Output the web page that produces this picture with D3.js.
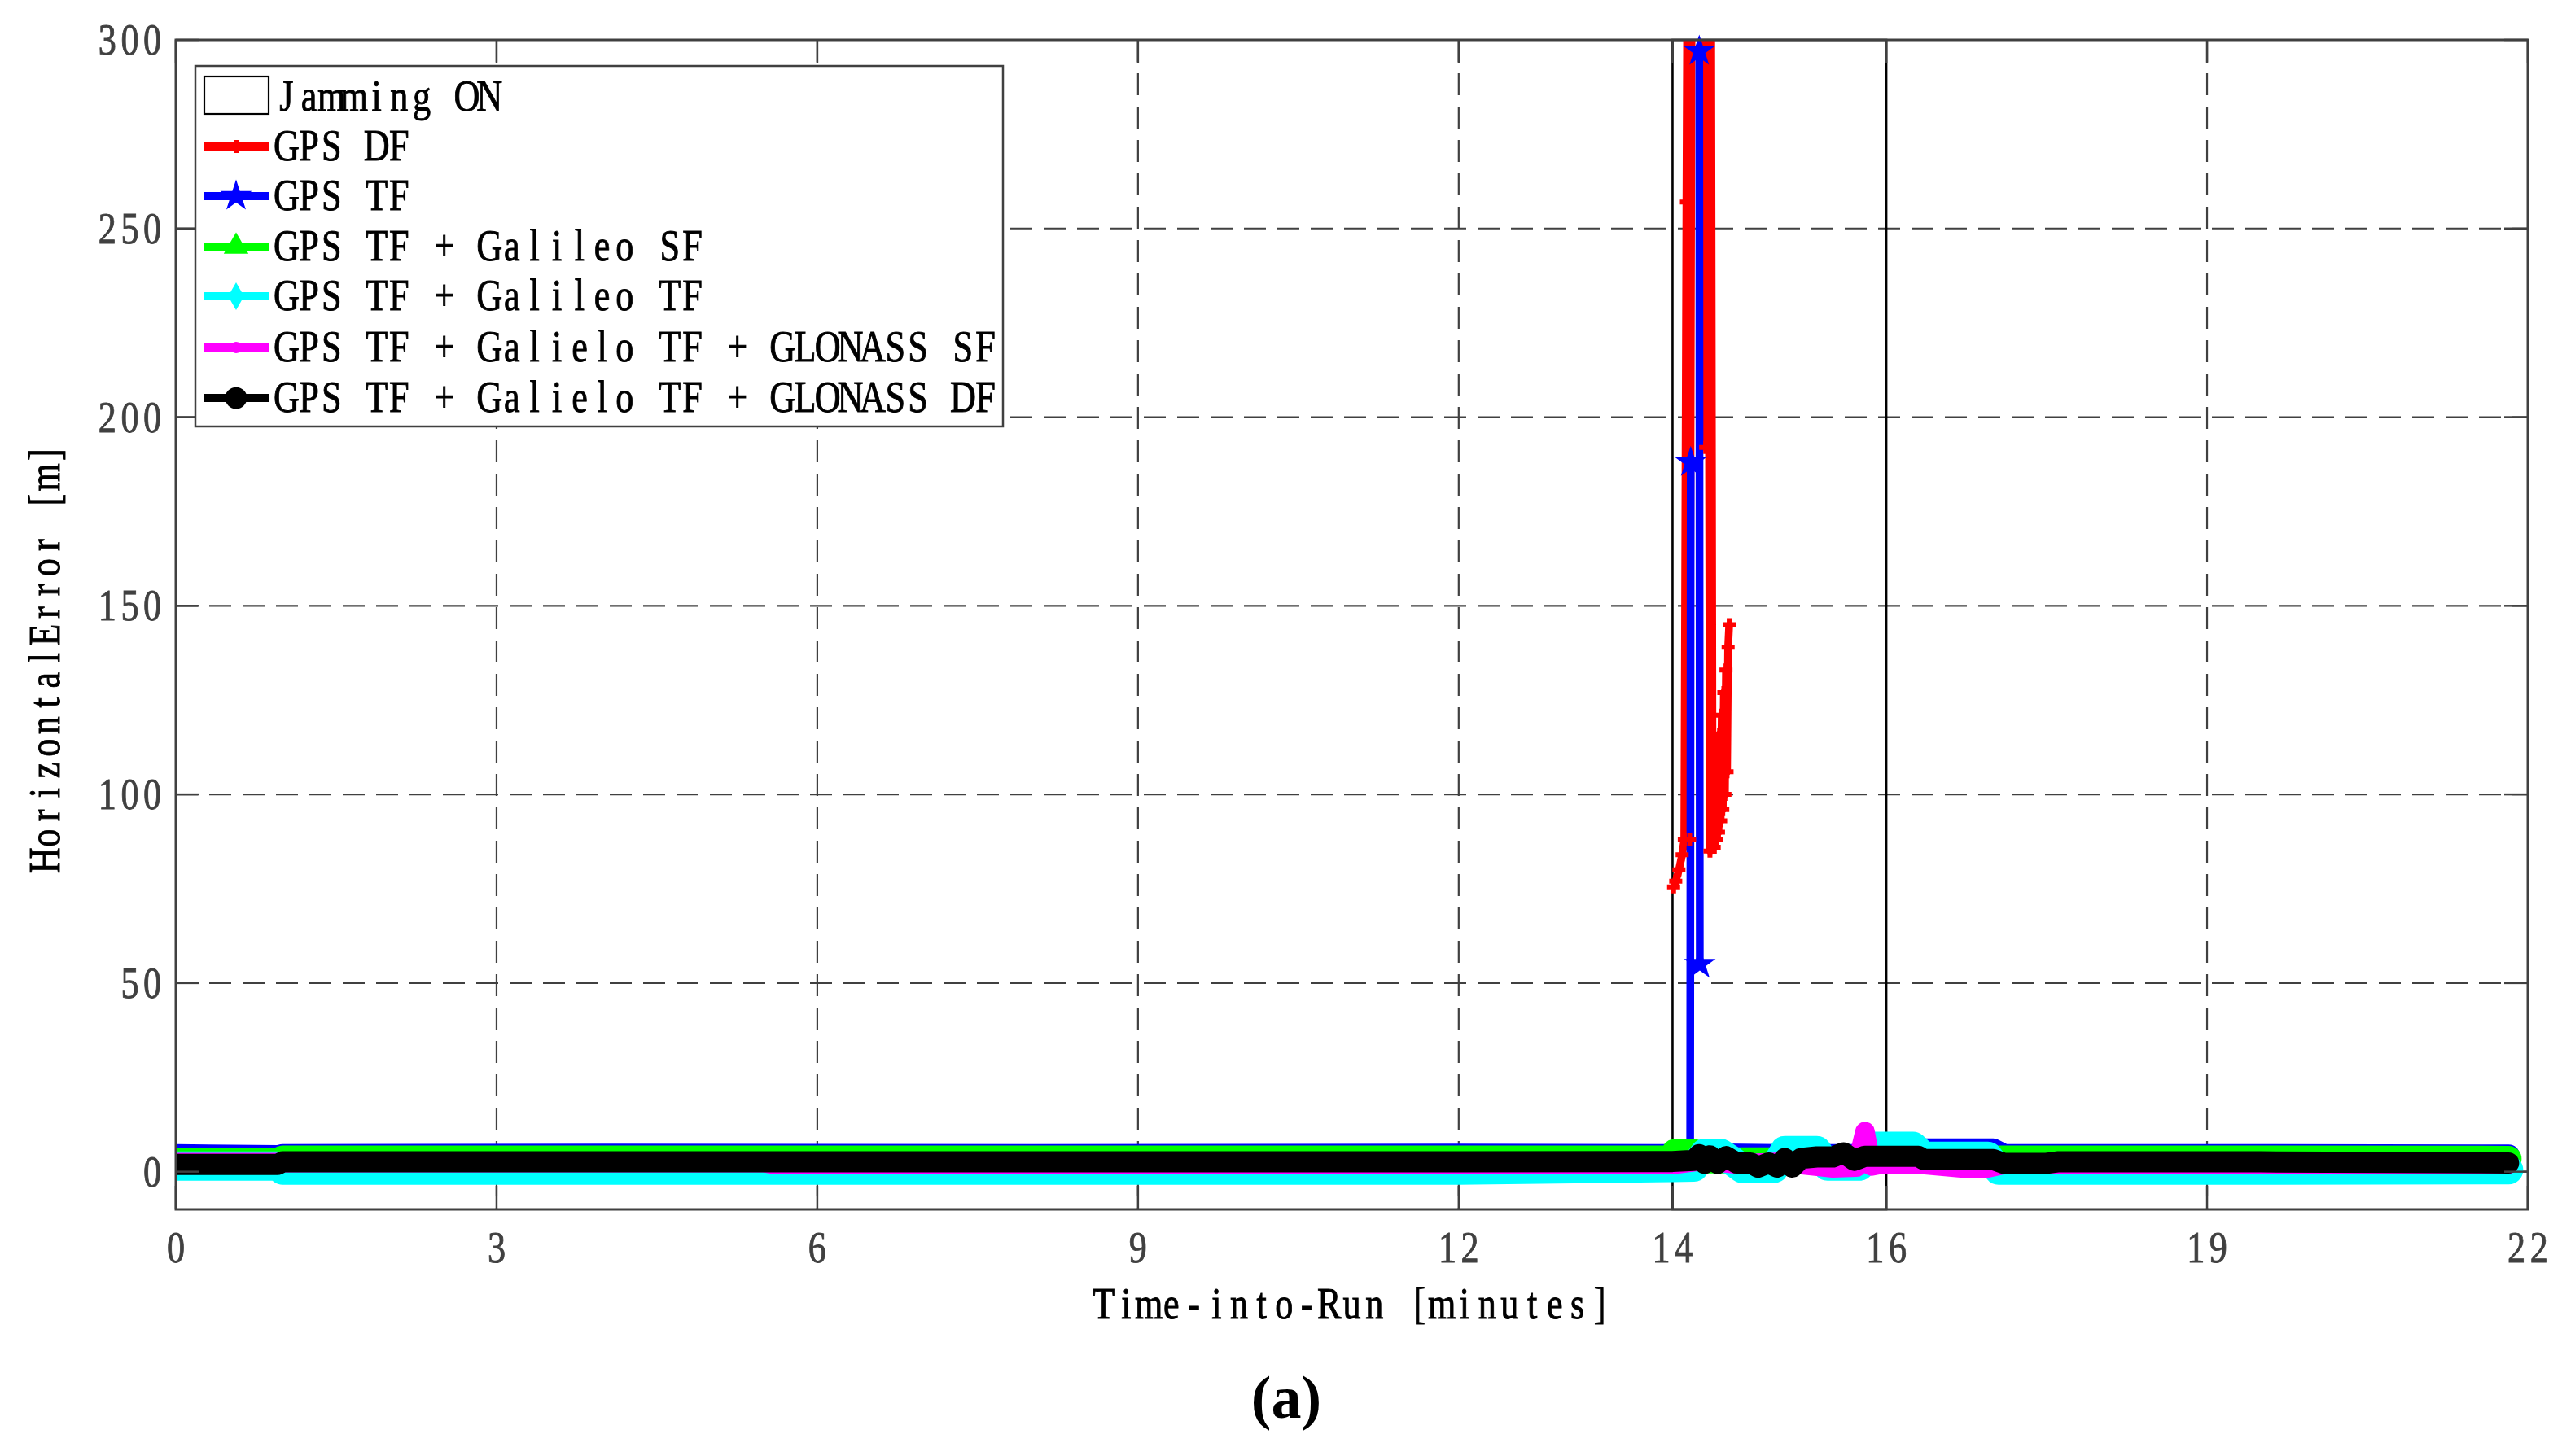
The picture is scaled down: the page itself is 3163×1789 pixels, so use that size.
<!DOCTYPE html>
<html>
<head>
<meta charset="utf-8">
<script src="https://cdn.jsdelivr.net/npm/d3@7"></script>
<style>
body { margin: 0; background: #fff; }
</style>
</head>
<body>
<div id="chart"></div>
<script>
// axis ticks
var xTicks = [0, 3, 6, 9, 12, 14, 16, 19, 22];
var yTicks = [0, 50, 100, 150, 200, 250, 300];
var jamStart = 14, jamEnd = 16;

var legendNames = ["GPS DF", "GPS TF", "GPS TF + Galileo SF", "GPS TF + Galileo TF",
    "GPS TF + Galielo TF + GLONASS SF", "GPS TF + Galielo TF + GLONASS DF"];

// GPS DF (only during jamming)
var gpsDfT   = [14.01, 14.03, 14.06, 14.09, 14.11, 14.13, 14.14, 14.16, 14.18, 14.28, 14.30, 14.31, 14.33, 14.35,
                14.36, 14.375, 14.38, 14.39, 14.40, 14.41, 14.42, 14.43, 14.44, 14.45, 14.46, 14.47, 14.48,
                14.49, 14.50, 14.51, 14.52, 14.53];
var gpsDfErr = [75.5, 77, 80, 84, 88, 257, 330, 88, 330, 330, 330, 192, 330, 85,
                330, 86, 96, 86, 103, 88, 110, 90, 116, 93, 121, 96, 127, 100,
                133, 106, 139, 145];

// GPS TF
var gpsTfT   = [0, 0.95, 1.0, 4.0, 8.0, 12.0, 14.0, 14.14, 14.165, 14.17, 14.2, 14.25, 14.255, 14.27,
                14.3, 15.0, 16.0, 16.3, 16.35, 17.0, 17.1, 19.0, 21.82];
var gpsTfErr = [4.3, 4.0, 4.3, 4.4, 4.3, 4.4, 4.3, 4.3, 4.5, 188, null, 297, 55, null,
                4.5, 4.3, 4.3, 4.3, 5.8, 5.8, 4.3, 4.3, 4.2];

// GPS TF + Galileo SF
var galSfT   = [0, 0.95, 1.0, 6, 12, 13.98, 14.02, 14.2, 14.25, 17.0, 17.05, 17.5, 19, 21.82];
var galSfErr = [2.8, 2.8, 3.5, 3.5, 3.5, 3.5, 5.2, 5.2, 3.0, 3.0, 3.5, 3.5, 3.5, 3.4];

// GPS TF + Galileo TF
var galTfT   = [0, 0.95, 1.0, 6, 12, 14.0, 14.2, 14.3, 14.45, 14.55, 14.65, 14.95, 15.05, 15.35, 15.45,
                15.75, 15.85, 16.25, 16.35, 16.95, 17.05, 19, 21.82];
var galTfErr = [1.5, 1.5, 0.4, 0.4, 0.4, 1.1, 1.2, 4.9, 4.9, 3.0, 0.9, 0.9, 5.6, 5.6, 1.5,
                1.5, 6.7, 6.7, 4.1, 4.1, 0.4, 0.4, 0.5];

// GPS TF + Galileo TF + GLONASS SF
var gloSfT   = [0, 5.5, 5.6, 12, 14.0, 14.3, 14.6, 15.0, 15.5, 15.72, 15.8, 15.86, 15.95, 16.3, 16.7,
                16.95, 17.1, 19, 21.82];
var gloSfErr = [2.4, 2.4, 1.9, 1.9, 1.9, 3.0, 2.0, 2.5, 1.0, 1.2, 10.6, 1.5, 2.0, 2.0, 1.0,
                1.0, 1.9, 1.9, 2.0];

// GPS TF + Galileo TF + GLONASS DF
var gloDfT   = [0, 0.95, 1.0, 6, 12, 14.0, 14.2, 14.25, 14.3, 14.35, 14.42, 14.5, 14.6, 14.73, 14.8,
                14.9, 14.98, 15.05, 15.12, 15.2, 15.35, 15.5, 15.6, 15.7, 15.8, 16.3, 16.35, 17.0,
                17.1, 17.5, 17.6, 19.5, 21.82];
var gloDfErr = [1.9, 1.9, 2.6, 2.6, 2.6, 2.7, 3.0, 4.5, 2.2, 4.2, 2.2, 4.0, 2.3, 2.3, 1.2,
                2.3, 1.2, 3.5, 1.2, 3.5, 3.9, 3.9, 5.0, 3.0, 4.1, 4.1, 3.2, 3.2,
                2.2, 2.2, 2.6, 2.6, 2.3];

var width = 3163, height = 1789;
var plot = {left: 216, right: 3105, top: 49, bottom: 1486};
var axisColor = "#404040";

var svg = d3.select("#chart")
    .append("svg")
    .attr("width", width)
    .attr("height", height)
    .style("display", "block");

svg.append("rect").attr("width", width).attr("height", height).attr("fill", "#fff");

var x = d3.scaleLinear().domain([0, 22]).range([plot.left, plot.right]);
var y = d3.scaleLinear().domain([-10, 300]).range([plot.bottom, plot.top]);

svg.append("clipPath").attr("id", "plotClip")
    .append("rect")
    .attr("x", plot.left).attr("y", plot.top)
    .attr("width", plot.right - plot.left).attr("height", plot.bottom - plot.top);

// grid
var grid = svg.append("g")
    .attr("stroke", axisColor)
    .attr("stroke-width", 2.2)
    .attr("stroke-dasharray", "27,14");

grid.selectAll(".gx")
    .data(xTicks.filter(function(d) { return d > 0 && d < 22 && d != jamStart && d != jamEnd; }))
    .join("line")
    .attr("x1", function(d) { return x(d); }).attr("x2", function(d) { return x(d); })
    .attr("y1", plot.top).attr("y2", plot.bottom);

grid.selectAll(".gy")
    .data(yTicks.filter(function(d) { return d < 300; }))
    .join("line")
    .attr("y1", function(d) { return y(d); }).attr("y2", function(d) { return y(d); })
    .attr("x1", plot.left).attr("x2", plot.right);

// jamming window
svg.append("rect")
    .attr("x", x(jamStart)).attr("width", x(jamEnd) - x(jamStart))
    .attr("y", y(300)).attr("height", y(-10) - y(300))
    .attr("fill", "none")
    .attr("stroke", "#000")
    .attr("stroke-width", 2.6);

// series
function pack(ts, vs) {
    return ts.map(function(t, i) { return {t: t, v: vs[i]}; });
}

var series = [
    {data: pack(gpsDfT, gpsDfErr), color: "#ff0000", band: 0},
    {data: pack(gpsTfT, gpsTfErr), color: "#0000ff", band: 28},
    {data: pack(galSfT, galSfErr), color: "#00ff00", band: 32},
    {data: pack(galTfT, galTfErr), color: "#00ffff", band: 36},
    {data: pack(gloSfT, gloSfErr), color: "#ff00ff", band: 24},
    {data: pack(gloDfT, gloDfErr), color: "#000000", band: 26}
];

var line = d3.line()
    .defined(function(d) { return d.v != null; })
    .x(function(d) { return x(d.t); })
    .y(function(d) { return y(d.v); });

var bandLine = d3.line()
    .defined(function(d) { return d.v != null && d.v < 20; })
    .x(function(d) { return x(d.t); })
    .y(function(d) { return y(d.v); });

var dataG = svg.append("g").attr("clip-path", "url(#plotClip)");
var markG = svg.append("g");

series.forEach(function(s, i) {
    if (s.band > 0) {
        dataG.append("path")
            .attr("d", bandLine(s.data))
            .attr("fill", "none")
            .attr("stroke", s.color)
            .attr("stroke-width", s.band)
            .attr("stroke-linejoin", "round")
            .attr("stroke-linecap", "round");
    }
    dataG.append("path")
        .attr("d", line(s.data))
        .attr("fill", "none")
        .attr("stroke", s.color)
        .attr("stroke-width", 9.5)
        .attr("stroke-linejoin", "round");

    if (i == 0) {
        markG.selectAll(".redmark")
            .data(s.data.filter(function(d) { return d.v <= 300; }))
            .join("path")
            .attr("transform", function(d) { return "translate(" + x(d.t) + "," + y(d.v) + ")"; })
            .attr("d", "M0,-8V8M-8,0H8")
            .attr("stroke", s.color)
            .attr("stroke-width", 6);
    }
    if (i == 1) {
        markG.selectAll(".bluemark")
            .data(s.data.filter(function(d) { return d.v != null && d.v > 20; }))
            .join("path")
            .attr("transform", function(d) { return "translate(" + x(d.t) + "," + y(d.v) + ")"; })
            .attr("d", d3.symbol().type(d3.symbolStar).size(470))
            .attr("fill", s.color);
    }
});

// box and ticks
svg.append("rect")
    .attr("x", plot.left).attr("y", plot.top)
    .attr("width", plot.right - plot.left).attr("height", plot.bottom - plot.top)
    .attr("fill", "none").attr("stroke", axisColor).attr("stroke-width", 3);

var tickLen = 29;
var ticks = svg.append("g").attr("stroke", axisColor).attr("stroke-width", 2.5);
xTicks.forEach(function(d) {
    ticks.append("line").attr("x1", x(d)).attr("x2", x(d)).attr("y1", plot.bottom).attr("y2", plot.bottom - tickLen);
    ticks.append("line").attr("x1", x(d)).attr("x2", x(d)).attr("y1", plot.top).attr("y2", plot.top + tickLen);
});
yTicks.forEach(function(d) {
    ticks.append("line").attr("y1", y(d)).attr("y2", y(d)).attr("x1", plot.left).attr("x2", plot.left + tickLen);
    ticks.append("line").attr("y1", y(d)).attr("y2", y(d)).attr("x1", plot.right).attr("x2", plot.right - tickLen);
});

// text on a fixed character grid, condensed serif glyphs (matlab-export look)
var pitch = 27.7, sx = 0.85, sy = 1.05;
function gridText(g, str, tx, ty, anchor, color, rot) {
    var n = str.length;
    var start = anchor == "start" ? 0 : (anchor == "end" ? -n * pitch : -n * pitch / 2);
    var xs = [];
    for (var i = 0; i < n; i++) xs.push(((start + (i + 0.5) * pitch) / sx).toFixed(2));
    return g.append("text")
        .attr("transform", "translate(" + tx + "," + ty + ")" + (rot ? " rotate(" + rot + ")" : "") +
              " scale(" + sx + "," + sy + ")")
        .attr("x", xs.join(" "))
        .attr("text-anchor", "middle")
        .attr("font-family", "'Liberation Serif', 'DejaVu Serif', serif")
        .attr("font-size", 52)
        .attr("fill", color)
        .attr("stroke", color)
        .attr("stroke-width", 0.9)
        .style("white-space", "pre")
        .text(str);
}

xTicks.forEach(function(d) { gridText(svg, String(d), x(d), 1551, "middle", axisColor); });
yTicks.forEach(function(d) { gridText(svg, String(d), 201, y(d) + 18, "end", axisColor); });

gridText(svg, "Time-into-Run [minutes]", (plot.left + plot.right) / 2, 1620, "middle", "#000");
gridText(svg, "HorizontalError [m]", 73, 808, "middle", "#000", -90);

svg.append("text")
    .attr("x", 1580).attr("y", 1742)
    .attr("text-anchor", "middle")
    .attr("font-family", "'Liberation Serif', serif")
    .attr("font-weight", "bold")
    .attr("font-size", 74)
    .text("(a)");

// legend
var leg = svg.append("g");
leg.append("rect")
    .attr("x", 240).attr("y", 81).attr("width", 992).attr("height", 443)
    .attr("fill", "#fff").attr("stroke", axisColor).attr("stroke-width", 2.5);

leg.append("rect")
    .attr("x", 251).attr("y", 94).attr("width", 79).attr("height", 46)
    .attr("fill", "#fff").attr("stroke", "#000").attr("stroke-width", 2.2);
gridText(leg, "Jamming ON", 338, 136, "start", "#000");

var rowY = [180, 241, 303, 364, 427, 489];
var legSymbols = [
    null,
    d3.symbol().type(d3.symbolStar).size(470)(),
    d3.symbol().type(d3.symbolTriangle).size(400)(),
    d3.symbol().type(d3.symbolDiamond).size(330)(),
    d3.symbol().type(d3.symbolCircle).size(150)(),
    d3.symbol().type(d3.symbolCircle).size(560)()
];
series.forEach(function(s, i) {
    var cy = rowY[i];
    leg.append("line")
        .attr("x1", 251).attr("x2", 330).attr("y1", cy).attr("y2", cy)
        .attr("stroke", s.color).attr("stroke-width", 10);
    if (i == 0) {
        leg.append("path")
            .attr("transform", "translate(290," + cy + ")")
            .attr("d", "M0,-8V8M-8,0H8")
            .attr("stroke", s.color).attr("stroke-width", 6);
    } else {
        leg.append("path")
            .attr("transform", "translate(290," + cy + ")")
            .attr("d", legSymbols[i])
            .attr("fill", s.color);
    }
    gridText(leg, legendNames[i], 338, cy + 17, "start", "#000");
});
</script>
</body>
</html>
